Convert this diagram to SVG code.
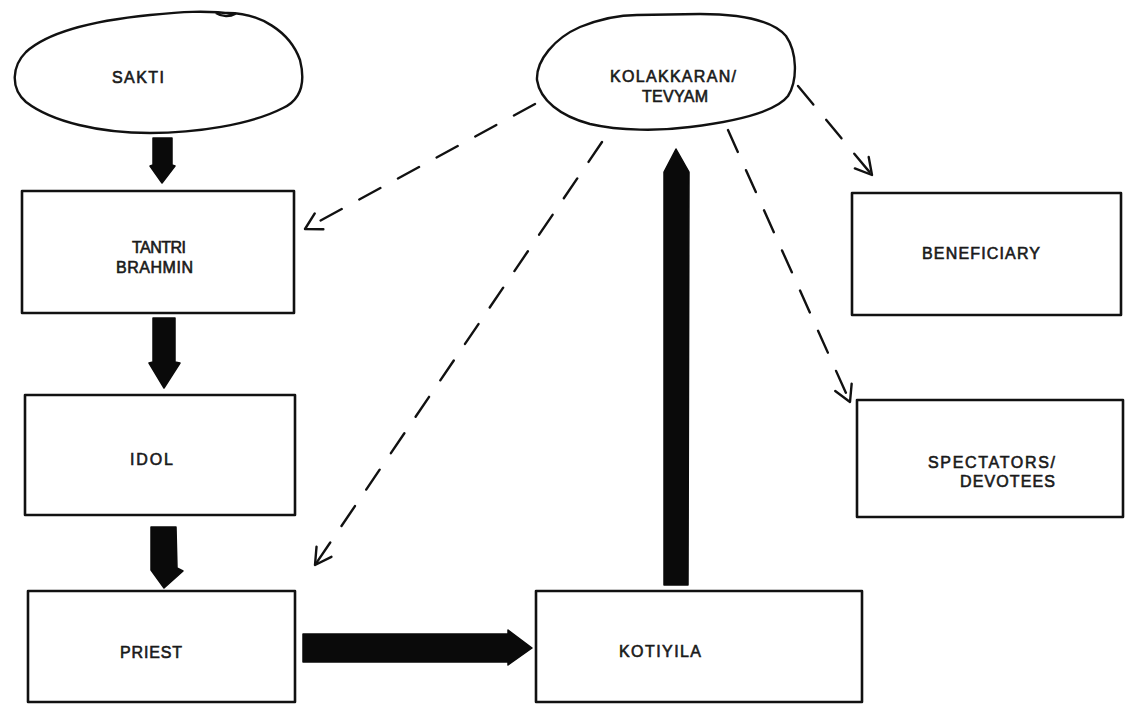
<svg xmlns="http://www.w3.org/2000/svg" width="1126" height="704" viewBox="0 0 1126 704">
<style>
.box{fill:none;stroke:#111;stroke-width:2.6;stroke-linejoin:round}
.oval{fill:none;stroke:#111;stroke-width:2.4;stroke-linejoin:round}
.lbl{font-family:"Liberation Sans",Arial,sans-serif;font-size:16px;fill:#1a1a1a;stroke:#1a1a1a;stroke-width:0.6}
.dash{fill:none;stroke:#111;stroke-width:2.4;stroke-dasharray:24 20;stroke-linecap:round}
.solid{fill:#0a0a0a;stroke:#0a0a0a;stroke-width:1.5;stroke-linejoin:round}
</style>
<defs>
<marker id="open" markerUnits="userSpaceOnUse" markerWidth="30" markerHeight="30" refX="0" refY="0" viewBox="-20 -15 25 30" orient="auto">
<path d="M -16 -9 L 0 0 L -16 9" fill="none" stroke="#111" stroke-width="2.4" stroke-linecap="round" stroke-linejoin="round"/>
</marker>
</defs>
<rect width="1126" height="704" fill="#fff"/>

<g id="sakti">
<path class="oval" d="M 225 13 C 260 12 290 32 300 60 C 306 84 300 100 283 108 C 250 125 195 133 150 133 C 100 133 52 122 26 102 C 10 88 12 66 26 52 C 50 30 100 20 150 15 C 180 12 205 10 235 14 C 230 17 222 17 216 13"/>
<text class="lbl" x="112" y="83" textLength="52" lengthAdjust="spacing">SAKTI</text>
</g>

<g id="kolakkaran">
<path class="oval" d="M 637 15 L 700 14 C 742 14 772 20 786 36 C 797 52 798 80 788 96 C 775 113 730 122 690 127 C 660 131 620 131 590 124 C 560 116 540 100 537 80 C 536 60 555 38 580 27 C 600 19 620 15 637 15 Z"/>
<text class="lbl" x="610" y="82" textLength="126" lengthAdjust="spacing">KOLAKKARAN/</text>
<text class="lbl" x="642" y="102" textLength="66" lengthAdjust="spacing">TEVYAM</text>
</g>

<g id="tantri">
<rect class="box" x="22" y="191" width="272" height="122"/>
<text class="lbl" x="132" y="253" textLength="54" lengthAdjust="spacing">TANTRI</text>
<text class="lbl" x="116" y="273" textLength="77" lengthAdjust="spacing">BRAHMIN</text>
</g>

<g id="idol">
<rect class="box" x="25" y="395" width="270" height="120"/>
<text class="lbl" x="130" y="465" textLength="43" lengthAdjust="spacing">IDOL</text>
</g>

<g id="priest">
<rect class="box" x="28" y="591" width="267" height="111"/>
<text class="lbl" x="120" y="658" textLength="62" lengthAdjust="spacing">PRIEST</text>
</g>

<g id="kotiyila">
<rect class="box" x="536" y="591" width="326" height="111"/>
<text class="lbl" x="619" y="657" textLength="82" lengthAdjust="spacing">KOTIYILA</text>
</g>

<g id="beneficiary">
<rect class="box" x="852" y="193" width="269" height="122"/>
<text class="lbl" x="922" y="259" textLength="118" lengthAdjust="spacing">BENEFICIARY</text>
</g>

<g id="spectators">
<rect class="box" x="857" y="400" width="266" height="117"/>
<text class="lbl" x="928" y="468" textLength="127" lengthAdjust="spacing">SPECTATORS/</text>
<text class="lbl" x="960" y="487" textLength="95" lengthAdjust="spacing">DEVOTEES</text>
</g>

<g id="connectors">
<path class="solid" d="M 153 138 L 172 138 L 172 165 L 175 166 L 162 183 L 150 166 L 153 165 Z"/>
<path class="solid" d="M 153 318 L 175 318 L 175 362 L 180 363 L 164 388 L 149 363 L 153 362 Z"/>
<path class="solid" d="M 151 527 L 176 527 L 177 568 L 183 571 L 164 588 L 151 570 Z"/>
<path class="solid" d="M 303 634 L 508 634 L 508 630 L 532 648 L 508 665 L 508 662 L 303 662 Z"/>
<path class="solid" d="M 664 585 L 664 172 L 676 149 L 689 172 L 688 585 Z"/>
<path class="dash" d="M 535 104 L 305 229" marker-end="url(#open)"/>
<path class="dash" d="M 602 142 L 315 565" marker-end="url(#open)"/>
<path class="dash" d="M 798 86 L 872 175" marker-end="url(#open)"/>
<path class="dash" d="M 728 130 L 850 402" marker-end="url(#open)"/>
</g>
</svg>
